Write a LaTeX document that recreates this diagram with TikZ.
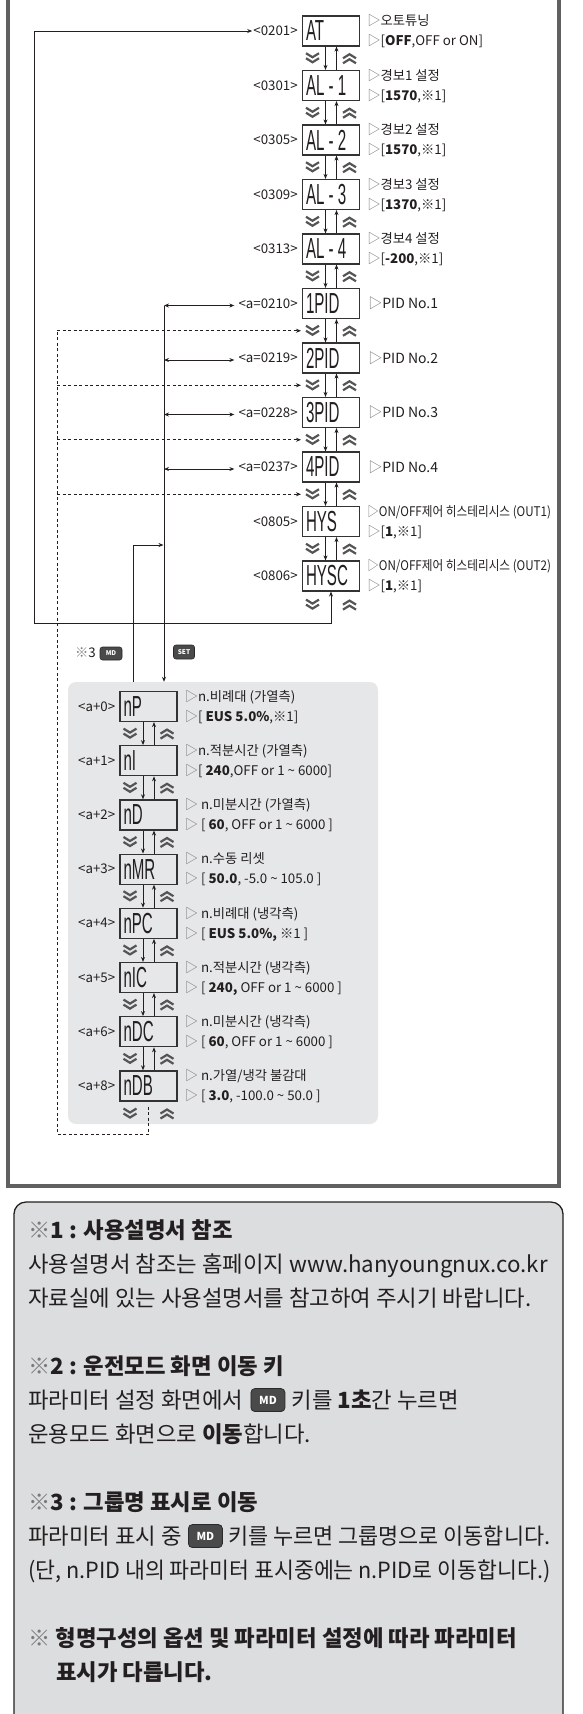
\documentclass[tikz,border=0pt]{standalone}
\usepackage{fontspec}
\usepackage{graphicx}
\setmainfont{Noto Sans CJK KR}
\newfontfamily\segfont{Liberation Sans}
\usetikzlibrary{arrows.meta,calc}
\definecolor{txt}{HTML}{231F20}
\definecolor{frame}{HTML}{606060}
\definecolor{panelbg}{HTML}{E6E7E8}
\definecolor{notebg}{HTML}{DCDDDF}
\definecolor{keyfill}{HTML}{4A4A4A}
\definecolor{keyedge}{HTML}{2A2A2A}
\definecolor{chev}{HTML}{555555}
\definecolor{trig}{HTML}{7A7A7A}
\definecolor{boxline}{HTML}{333333}
\newcommand{\segtxt}[1]{\makebox[50pt][l]{\scalebox{0.52}[1]{#1}}}
\newcommand{\trg}{{\color{trig}▷}}
\newcommand{\kome}{{\color{trig}※}}
\newcommand{\narrow}[1]{\scalebox{0.875}[1]{#1}}
\tikzset{
  disp/.style={draw=boxline, line width=1.2pt, minimum width=57pt, minimum height=30pt, inner sep=0pt, font=\segfont\fontsize{29}{29}\selectfont, text=txt},
  lbl/.style={font=\fontsize{13.3}{15}\selectfont, inner sep=0pt, anchor=east, text=txt},
  desc/.style={font=\fontsize{13.3}{15}\selectfont, inner sep=0pt, anchor=base west, text=txt},
  pidl/.style={font=\fontsize{14}{16}\selectfont, inner sep=0pt, anchor=base west, text=txt},
  arr/.style={draw=txt, line width=0.8pt, -{Stealth[length=5pt,width=4pt]}},
  darr/.style={draw=txt, line width=0.8pt, {Stealth[length=5pt,width=4pt]}-{Stealth[length=5pt,width=4pt]}},
  dsh/.style={draw=txt, line width=0.9pt, dash pattern=on 3pt off 2.5pt},
  dsharr/.style={dsh, -{Stealth[length=5pt,width=4pt]}},
  keybtn/.style={fill=keyfill, draw=keyedge, line width=0.6pt, rounded corners=2.5pt, text=white, inner sep=0pt, font=\bfseries\fontsize{6.5}{7}\selectfont},
  notekey/.style={fill=keyfill, draw=keyedge, line width=0.8pt, rounded corners=4pt, text=white, inner sep=0pt, minimum width=34pt, minimum height=23pt, font=\bfseries\fontsize{11}{12}\selectfont, anchor=west},
  note/.style={font=\fontsize{22.3}{26}\selectfont, inner sep=0pt, anchor=base west, text=txt},
  pics/dnkey/.style={code={\draw[chev, line width=2.2pt] (-6.5,-5)--(0,-1)--(6.5,-5) (-6.5,0)--(0,4)--(6.5,0);}},
  pics/upkey/.style={code={\draw[chev, line width=2.2pt] (-6.5,5)--(0,1)--(6.5,5) (-6.5,0)--(0,-4)--(6.5,0);}}
}
\newcommand{\boxlink}[2]{%
  \draw[arr] ([xshift=-5.5pt]#1.south) -- ([xshift=-5.5pt]#2.north);
  \draw[arr] ([xshift=5.5pt]#2.north) -- ([xshift=5.5pt]#1.south);
  \path ($(#1.south)!0.5!(#2.north)$) pic[shift={(-18.5,0)}] {dnkey} pic[shift={(18.5,0)}] {upkey};
}
\newcommand{\twodesc}[4]{%
  \node[desc] (#1a) at ($(#2.east)+(7,-5.2)$) {#3};
  \node[desc] (#1b) at ($(#2.east)+(7,14.8)$) {#4};
}
\begin{document}
\begin{tikzpicture}[x=1pt,y=-1pt]
\useasboundingbox (0,0) rectangle (582,1714);
% outer frame
\draw[frame, line width=4pt] (8,-10) -- (8,1186) -- (559,1186) -- (559,-10);
% panel
\node[fill=panelbg, rounded corners=8pt, minimum width=310pt, minimum height=442pt, inner sep=0pt] (panel) at (223,903) {};
% main column
\node[disp] (at) at (331,31) {\segtxt{AT}};
\node[disp] (al1) at (331,85.5) {\segtxt{AL - 1}};
\node[disp] (al2) at (331,140) {\segtxt{AL - 2}};
\node[disp] (al3) at (331,194.5) {\segtxt{AL - 3}};
\node[disp] (al4) at (331,249) {\segtxt{AL - 4}};
\node[disp] (p1) at (331,303.5) {\segtxt{1PID}};
\node[disp] (p2) at (331,358) {\segtxt{2PID}};
\node[disp] (p3) at (331,412.5) {\segtxt{3PID}};
\node[disp] (p4) at (331,467) {\segtxt{4PID}};
\node[disp] (hys) at (331,521.5) {\segtxt{HYS}};
\node[disp] (hysc) at (331,576) {\segtxt{HYSC}};
% labels
\node[lbl] (l0201) at ([xshift=-4pt]at.west) {<0201>};
\node[lbl] (l0301) at ([xshift=-4pt]al1.west) {<0301>};
\node[lbl] (l0305) at ([xshift=-4pt]al2.west) {<0305>};
\node[lbl] (l0309) at ([xshift=-4pt]al3.west) {<0309>};
\node[lbl] (l0313) at ([xshift=-4pt]al4.west) {<0313>};
\node[lbl] (l0210) at ([xshift=-4pt]p1.west) {<a=0210>};
\node[lbl] (l0219) at ([xshift=-4pt]p2.west) {<a=0219>};
\node[lbl] (l0228) at ([xshift=-4pt]p3.west) {<a=0228>};
\node[lbl] (l0237) at ([xshift=-4pt]p4.west) {<a=0237>};
\node[lbl] (l0805) at ([xshift=-4pt]hys.west) {<0805>};
\node[lbl] (l0806) at ([xshift=-4pt]hysc.west) {<0806>};
% descriptions
\twodesc{dat}{at}{\trg 오토튜닝}{\trg[\textbf{OFF},OFF or ON]}
\twodesc{dal1}{al1}{\trg 경보1 설정}{\trg[\textbf{1570},※1]}
\twodesc{dal2}{al2}{\trg 경보2 설정}{\trg[\textbf{1570},※1]}
\twodesc{dal3}{al3}{\trg 경보3 설정}{\trg[\textbf{1370},※1]}
\twodesc{dal4}{al4}{\trg 경보4 설정}{\trg[\textbf{-200},※1]}
\node[pidl] (dp1) at ($(p1.east)+(8,5)$) {\trg PID No.1};
\node[pidl] (dp2) at ($(p2.east)+(8,5)$) {\trg PID No.2};
\node[pidl] (dp3) at ($(p3.east)+(8,5)$) {\trg PID No.3};
\node[pidl] (dp4) at ($(p4.east)+(8,5)$) {\trg PID No.4};
\twodesc{dhys}{hys}{\narrow{\trg ON/OFF제어 히스테리시스 (OUT1)}}{\trg[\textbf{1},※1]}
\twodesc{dhysc}{hysc}{\narrow{\trg ON/OFF제어 히스테리시스 (OUT2)}}{\trg[\textbf{1},※1]}
% links main
\boxlink{at}{al1}
\boxlink{al1}{al2}
\boxlink{al2}{al3}
\boxlink{al3}{al4}
\boxlink{al4}{p1}
\boxlink{p1}{p2}
\boxlink{p2}{p3}
\boxlink{p3}{p4}
\boxlink{p4}{hys}
\boxlink{hys}{hysc}
\path ([yshift=-13pt]hysc.south) pic[shift={(-18.5,0)}] {dnkey} pic[shift={(18.5,0)}] {upkey};
% loop line
\coordinate (lpBR) at (331,623);
\coordinate (lpBL) at (34,623);
\coordinate (lpTL) at (34,31);
\draw[darr] (hysc.south) -- (lpBR) -- (lpBL) -- (lpTL) -- ([xshift=-1pt]l0201.west);
% SET vertical line and double arrows
\coordinate (sx) at (164,0);
\coordinate (mx) at (133,0);
\coordinate (v1) at ($(p1 -| sx)+(0,2)$);
\coordinate (v2) at ($(p2 -| sx)+(0,2)$);
\coordinate (v3) at ($(p3 -| sx)+(0,2)$);
\coordinate (v4) at ($(p4 -| sx)+(0,2)$);
\draw[arr] (v1) -- (sx |- panel.north);
\draw[darr] (v1) -- ($(l0210.west)+(-4,2)$);
\draw[darr] (v2) -- ($(l0219.west)+(-4,2)$);
\draw[darr] (v3) -- ($(l0228.west)+(-4,2)$);
\draw[darr] (v4) -- ($(l0237.west)+(-4,2)$);
% MD line
\coordinate (mdT) at (133,545);
\coordinate (mdE) at (163.5,545);
\draw[arr] (mx |- panel.north) -- (mdT) -- (mdE);
% keys in diagram
\node[font=\fontsize{13.3}{15}\selectfont, text=txt, inner sep=0pt, anchor=east] (k3) at (96,653) {\kome 3};
\node[keybtn, minimum width=22pt, minimum height=13pt] (kmd) at (111,653.5) {MD};
\node[keybtn, minimum width=21pt, minimum height=14pt] (kset) at (184,652) {SET};
% panel boxes
\node[disp] (a0) at (148.5,706.5) {\segtxt{nP}};
\node[disp] (a1) at (148.5,760.7) {\segtxt{nI}};
\node[disp] (a2) at (148.5,814.9) {\segtxt{nD}};
\node[disp] (a3) at (148.5,869.1) {\segtxt{nMR}};
\node[disp] (a4) at (148.5,923.3) {\segtxt{nPC}};
\node[disp] (a5) at (148.5,977.5) {\segtxt{nIC}};
\node[disp] (a6) at (148.5,1031.7) {\segtxt{nDC}};
\node[disp] (a8) at (148.5,1085.9) {\segtxt{nDB}};
\node[lbl] (la0) at ([xshift=-4pt]a0.west) {<a+0>};
\node[lbl] (la1) at ([xshift=-4pt]a1.west) {<a+1>};
\node[lbl] (la2) at ([xshift=-4pt]a2.west) {<a+2>};
\node[lbl] (la3) at ([xshift=-4pt]a3.west) {<a+3>};
\node[lbl] (la4) at ([xshift=-4pt]a4.west) {<a+4>};
\node[lbl] (la5) at ([xshift=-4pt]a5.west) {<a+5>};
\node[lbl] (la6) at ([xshift=-4pt]a6.west) {<a+6>};
\node[lbl] (la8) at ([xshift=-4pt]a8.west) {<a+8>};
\twodesc{da0}{a0}{\trg n.비례대 (가열측)}{\trg[ \textbf{EUS 5.0\%},※1]}
\twodesc{da1}{a1}{\trg n.적분시간 (가열측)}{\trg[ \textbf{240},OFF or 1 \textasciitilde{} 6000]}
\twodesc{da2}{a2}{\trg\ n.미분시간 (가열측)}{\trg\ [ \textbf{60}, OFF or 1 \textasciitilde{} 6000 ]}
\twodesc{da3}{a3}{\trg\ n.수동 리셋}{\trg\ [ \textbf{50.0}, -5.0 \textasciitilde{} 105.0 ]}
\twodesc{da4}{a4}{\trg\ n.비례대 (냉각측)}{\trg\ [ \textbf{EUS 5.0\%,} ※1 ]}
\twodesc{da5}{a5}{\trg\ n.적분시간 (냉각측)}{\trg\ [ \textbf{240,} OFF or 1 \textasciitilde{} 6000 ]}
\twodesc{da6}{a6}{\trg\ n.미분시간 (냉각측)}{\trg\ [ \textbf{60}, OFF or 1 \textasciitilde{} 6000 ]}
\twodesc{da8}{a8}{\trg\ n.가열/냉각 불감대}{\trg\ [ \textbf{3.0}, -100.0 \textasciitilde{} 50.0 ]}
\boxlink{a0}{a1}
\boxlink{a1}{a2}
\boxlink{a2}{a3}
\boxlink{a3}{a4}
\boxlink{a4}{a5}
\boxlink{a5}{a6}
\boxlink{a6}{a8}
\path ([yshift=-12pt]a8.south) pic[shift={(-18.5,0)}] {dnkey} pic[shift={(18.5,0)}] {upkey};
% dashed return lines
\coordinate (dx) at (57,0);
\coordinate (dB) at (148.5,1134);
\coordinate (g1) at ($(p1.south)!0.5!(p2.north)$);
\coordinate (g2) at ($(p2.south)!0.5!(p3.north)$);
\coordinate (g3) at ($(p3.south)!0.5!(p4.north)$);
\coordinate (g4) at ($(p4.south)!0.5!(hys.north)$);
\draw[dsh] ([yshift=-5pt]a8.south) -- (dB) -- (dB -| dx) -- (g1 -| dx);
\draw[dsharr] (g1 -| dx) -- ([xshift=-30pt]g1);
\draw[dsharr] (g2 -| dx) -- ([xshift=-30pt]g2);
\draw[dsharr] (g3 -| dx) -- ([xshift=-30pt]g3);
\draw[dsharr] (g4 -| dx) -- ([xshift=-30pt]g4);
% notes box
\draw[fill=notebg, draw=txt, line width=1.3pt, rounded corners=12pt] (14,1202) rectangle (563,1760);
\node[note] (n1) at (28,1238.3) {\kome\textbf{1 : 사용설명서 참조}};
\node[note] (n2) at (28,1272.3) {사용설명서 참조는 홈페이지 www.hanyoungnux.co.kr};
\node[note] (n3) at (28,1306.3) {자료실에 있는 사용설명서를 참고하여 주시기 바랍니다.};
\node[note] (n4) at (28,1374.3) {\kome\textbf{2 : 운전모드 화면 이동 키}};
\node[note] (n5a) at (28,1408.3) {파라미터 설정 화면에서};
\node[notekey] (k5) at ($(n5a.base east)+(7,-8.25)$) {MD};
\node[note] (n5b) at ($(k5.east)+(6,8.25)$) {키를 \textbf{1초}간 누르면};
\node[note] (n6) at (28,1442.3) {운용모드 화면으로 \textbf{이동}합니다.};
\node[note] (n7) at (28,1510.3) {\kome\textbf{3 : 그룹명 표시로 이동}};
\node[note] (n8a) at (28,1544.3) {파라미터 표시 중};
\node[notekey] (k8) at ($(n8a.base east)+(6,-8.25)$) {MD};
\node[note] (n8b) at ($(k8.east)+(5,8.25)$) {\scalebox{0.98}[1]{키를 누르면 그룹명으로 이동합니다.}};
\node[note] (n9) at (28,1578.3) {\scalebox{0.97}[1]{(단, n.PID 내의 파라미터 표시중에는 n.PID로 이동합니다.)}};
\node[note] (n10) at (28,1646.3) {\kome\ \textbf{형명구성의 옵션 및 파라미터 설정에 따라 파라미터}};
\node[note] (n11) at (56,1680.3) {\textbf{표시가 다릅니다.}};
\end{tikzpicture}
\end{document}
